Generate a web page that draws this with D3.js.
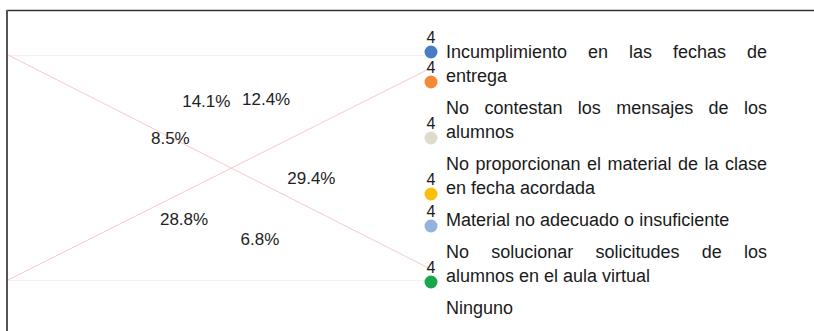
<!DOCTYPE html>
<html>
<head>
<meta charset="utf-8">
<script src="https://cdn.jsdelivr.net/npm/d3@7"></script>
<style>
  html, body { margin: 0; padding: 0; background: #fff; }
  svg { display: block; font-family: "Liberation Sans", Arial, sans-serif; }
</style>
</head>
<body>
<svg id="chart" width="814" height="331"></svg>
<script>
// Slice shares (percent), clockwise from 12 o'clock
const shares = [12.4, 29.4, 6.8, 28.8, 8.5, 14.1];

// Legend entries, wrapped as lines
const legendItems = [
  ["Incumplimiento en las fechas de", "entrega"],
  ["No contestan los mensajes de los", "alumnos"],
  ["No proporcionan el material de la clase", "en fecha acordada"],
  ["Material no adecuado o insuficiente"],
  ["No solucionar solicitudes de los", "alumnos en el aula virtual"],
  ["Ninguno"]
];

// Marker colours and their counts
const markerColors = ["#4a7cc4", "#f28a36", "#dcdbcc", "#fbbf0a", "#93b3dd", "#1aa64a"];
const markerCounts = [4, 4, 4, 4, 4, 4];

const svg = d3.select("#chart");

// Outer frame (top and left edges)
svg.append("line").attr("x1", 7).attr("x2", 814).attr("y1", 10.5).attr("y2", 10.5)
  .attr("stroke", "#333").attr("stroke-width", 1.5);
svg.append("line").attr("x1", 7).attr("x2", 7).attr("y1", 10).attr("y2", 331)
  .attr("stroke", "#555").attr("stroke-width", 2);

// Plot box with faint guides
const x = d3.scaleLinear().domain([0, 1]).range([8, 430]);
const y = d3.scaleLinear().domain([0, 1]).range([280, 55]);

svg.selectAll("line.guide").data([0, 1]).join("line")
  .attr("class", "guide")
  .attr("x1", x(0)).attr("x2", x(1))
  .attr("y1", d => y(d) + 0.5).attr("y2", d => y(d) + 0.5)
  .attr("stroke", "#f5f0f0").attr("stroke-width", 1);

const diagonals = [[[0, 1], [1, 0.05]], [[0, 0], [1, 0.94]]];
svg.selectAll("line.diag").data(diagonals).join("line")
  .attr("class", "diag")
  .attr("x1", d => x(d[0][0])).attr("y1", d => y(d[0][1]))
  .attr("x2", d => x(d[1][0])).attr("y2", d => y(d[1][1]))
  .attr("stroke", "#f5c9cc").attr("stroke-width", 1);

// Slice labels placed at the arc centroids
const cx = 238, cy = 168;
const pie = d3.pie().sort(null).value(d => d);
const arcLabel = d3.arc().innerRadius(74).outerRadius(74);
svg.append("g").attr("transform", `translate(${cx},${cy})`)
  .selectAll("text").data(pie(shares)).join("text")
  .attr("transform", d => `translate(${arcLabel.centroid(d)})`)
  .attr("text-anchor", "middle")
  .attr("dy", "0.35em")
  .attr("font-size", 17)
  .attr("fill", "#222")
  .text(d => d.data.toFixed(1) + "%");

// Legend: justified text block
const textX = 446, textRight = 767;
const lineH = 24, itemGap = 32, firstBaseline = 58;
const legend = svg.append("g").attr("font-size", 18).attr("fill", "#1a1a1a");

let baseline = firstBaseline;
const firstBaselines = [], lastBaselines = [];
legendItems.forEach(lines => {
  firstBaselines.push(baseline);
  lines.forEach((line, li) => {
    const justify = li < lines.length - 1;
    const words = line.split(" ");
    if (!justify) {
      legend.append("text").attr("x", textX).attr("y", baseline).text(line);
    } else {
      const nodes = words.map(w => legend.append("text").attr("y", baseline).text(w));
      const widths = nodes.map(n => n.node().getComputedTextLength());
      const total = d3.sum(widths);
      const gap = (textRight - textX - total) / (words.length - 1);
      let px = textX;
      nodes.forEach((n, i) => { n.attr("x", px); px += widths[i] + gap; });
    }
    if (li < lines.length - 1) baseline += lineH;
  });
  lastBaselines.push(baseline);
  baseline += itemGap;
});

// Markers: first at the top line, the rest at the end of each entry
const markerY = markerColors.map((c, i) => i === 0 ? firstBaselines[0] - 6 : lastBaselines[i - 1]);
const mx = 431;
const markers = svg.append("g");
markers.selectAll("circle").data(markerColors).join("circle")
  .attr("cx", mx).attr("cy", (d, i) => markerY[i]).attr("r", 6.5)
  .attr("fill", d => d);
markers.selectAll("text").data(markerCounts).join("text")
  .attr("x", mx).attr("y", (d, i) => markerY[i] - 9)
  .attr("text-anchor", "middle")
  .attr("font-size", 16).attr("fill", "#1a1a1a")
  .text(d => d);
</script>
</body>
</html>
